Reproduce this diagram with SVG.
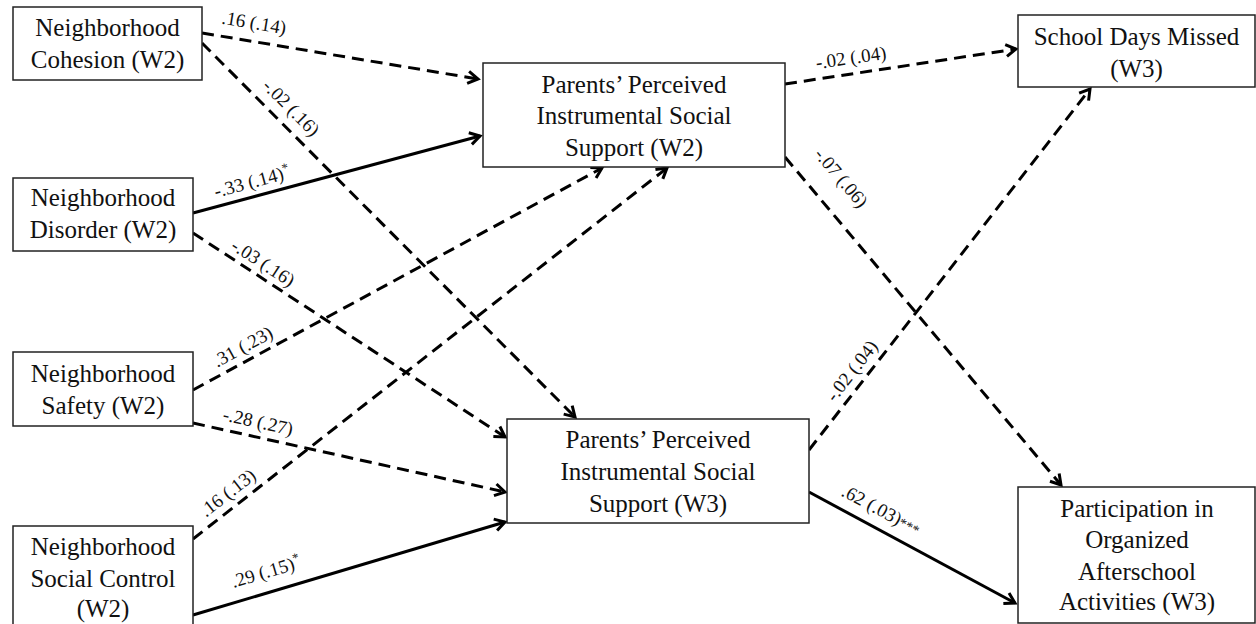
<svg xmlns="http://www.w3.org/2000/svg" width="1256" height="624" viewBox="0 0 1256 624">
<style>
.box{fill:#fff;stroke:#222;stroke-width:1.5}
.t{font-family:"Liberation Serif","Times New Roman",serif;font-size:25px;fill:#111;text-anchor:middle}
.lb{font-family:"Liberation Serif","Times New Roman",serif;font-size:19px;fill:#111;text-anchor:middle}
.d{fill:none;stroke:#000;stroke-width:3;stroke-dasharray:12 7;marker-end:url(#ah)}
.s{fill:none;stroke:#000;stroke-width:3;marker-end:url(#ah)}
</style>
<defs>
<marker id="ah" markerUnits="userSpaceOnUse" markerWidth="16" markerHeight="16" refX="12" refY="7" orient="auto" viewBox="0 0 16 14">
<path d="M2,1 L12,7 L2,13" fill="none" stroke="#000" stroke-width="3" stroke-dasharray="none"/>
</marker>
</defs>
<rect width="1256" height="624" fill="#fff"/>
<g id="connectors">
<line class="d" x1="202" y1="33" x2="478" y2="79"/>
<line class="d" x1="202" y1="43" x2="575" y2="417"/>
<line class="s" x1="193" y1="213" x2="480" y2="136"/>
<line class="d" x1="193" y1="233" x2="505" y2="437"/>
<line class="d" x1="193" y1="390" x2="602" y2="168"/>
<line class="d" x1="193" y1="423" x2="505" y2="492"/>
<line class="d" x1="193" y1="539" x2="667" y2="168"/>
<line class="s" x1="193" y1="615" x2="505" y2="522"/>
<line class="d" x1="785" y1="84" x2="1016" y2="49"/>
<line class="d" x1="785" y1="157" x2="1061" y2="485"/>
<line class="d" x1="809" y1="450" x2="1090" y2="89"/>
<line class="s" x1="809" y1="492" x2="1015" y2="603"/>
<g id="labels">
<text class="lb" transform="translate(254,23) rotate(9.5)" y="6">.16 (.14)</text>
<text class="lb" transform="translate(291,108) rotate(45)" y="6">-.02 (.16)</text>
<text class="lb" transform="translate(252,182) rotate(-15)" y="6">-.33 (.14)<tspan font-size="13" dy="-7">*</tspan></text>
<text class="lb" transform="translate(263,263) rotate(33)" y="6">-.03 (.16)</text>
<text class="lb" transform="translate(243,347) rotate(-28.5)" y="6">.31 (.23)</text>
<text class="lb" transform="translate(258,422) rotate(12.5)" y="6">-.28 (.27)</text>
<text class="lb" transform="translate(228,493) rotate(-38)" y="6">.16 (.13)</text>
<text class="lb" transform="translate(266,572) rotate(-16.6)" y="6">.29 (.15)<tspan font-size="13" dy="-7">*</tspan></text>
<text class="lb" transform="translate(851,58) rotate(-8.3)" y="6">-.02 (.04)</text>
<text class="lb" transform="translate(841,178) rotate(49.8)" y="6">-.07 (.06)</text>
<text class="lb" transform="translate(852,371) rotate(-52)" y="6">-.02 (.04)</text>
<text class="lb" transform="translate(881,510) rotate(28)" y="6">.62 (.03)<tspan font-size="14">***</tspan></text>
</g>
</g>
<g id="cohesion">
<rect class="box" x="13" y="7" width="189" height="73"/>
<text class="t" x="107.5" y="36">Neighborhood</text>
<text class="t" x="107.5" y="68">Cohesion (W2)</text>
</g>
<g id="disorder">
<rect class="box" x="13" y="178" width="180" height="73"/>
<text class="t" x="103" y="206">Neighborhood</text>
<text class="t" x="103" y="238">Disorder (W2)</text>
</g>
<g id="safety">
<rect class="box" x="13" y="352" width="180" height="74"/>
<text class="t" x="103" y="382">Neighborhood</text>
<text class="t" x="103" y="414">Safety (W2)</text>
</g>
<g id="socialcontrol">
<rect class="box" x="13" y="526" width="180" height="110"/>
<text class="t" x="103" y="555">Neighborhood</text>
<text class="t" x="103" y="587">Social Control</text>
<text class="t" x="103" y="617">(W2)</text>
</g>
<g id="support-w2">
<rect class="box" x="483" y="63" width="302" height="104"/>
<text class="t" x="634" y="93">Parents’ Perceived</text>
<text class="t" x="634" y="124">Instrumental Social</text>
<text class="t" x="634" y="156">Support (W2)</text>
</g>
<g id="support-w3">
<rect class="box" x="507" y="419" width="302" height="104"/>
<text class="t" x="658" y="448">Parents’ Perceived</text>
<text class="t" x="658" y="480">Instrumental Social</text>
<text class="t" x="658" y="512">Support (W3)</text>
</g>
<g id="schooldays">
<rect class="box" x="1018" y="15" width="237" height="72"/>
<text class="t" x="1136.5" y="45">School Days Missed</text>
<text class="t" x="1136.5" y="77">(W3)</text>
</g>
<g id="participation">
<rect class="box" x="1018" y="487" width="237" height="136"/>
<text class="t" x="1137" y="517">Participation in</text>
<text class="t" x="1137" y="548">Organized</text>
<text class="t" x="1137" y="580">Afterschool</text>
<text class="t" x="1137" y="610">Activities (W3)</text>
</g>
</svg>
